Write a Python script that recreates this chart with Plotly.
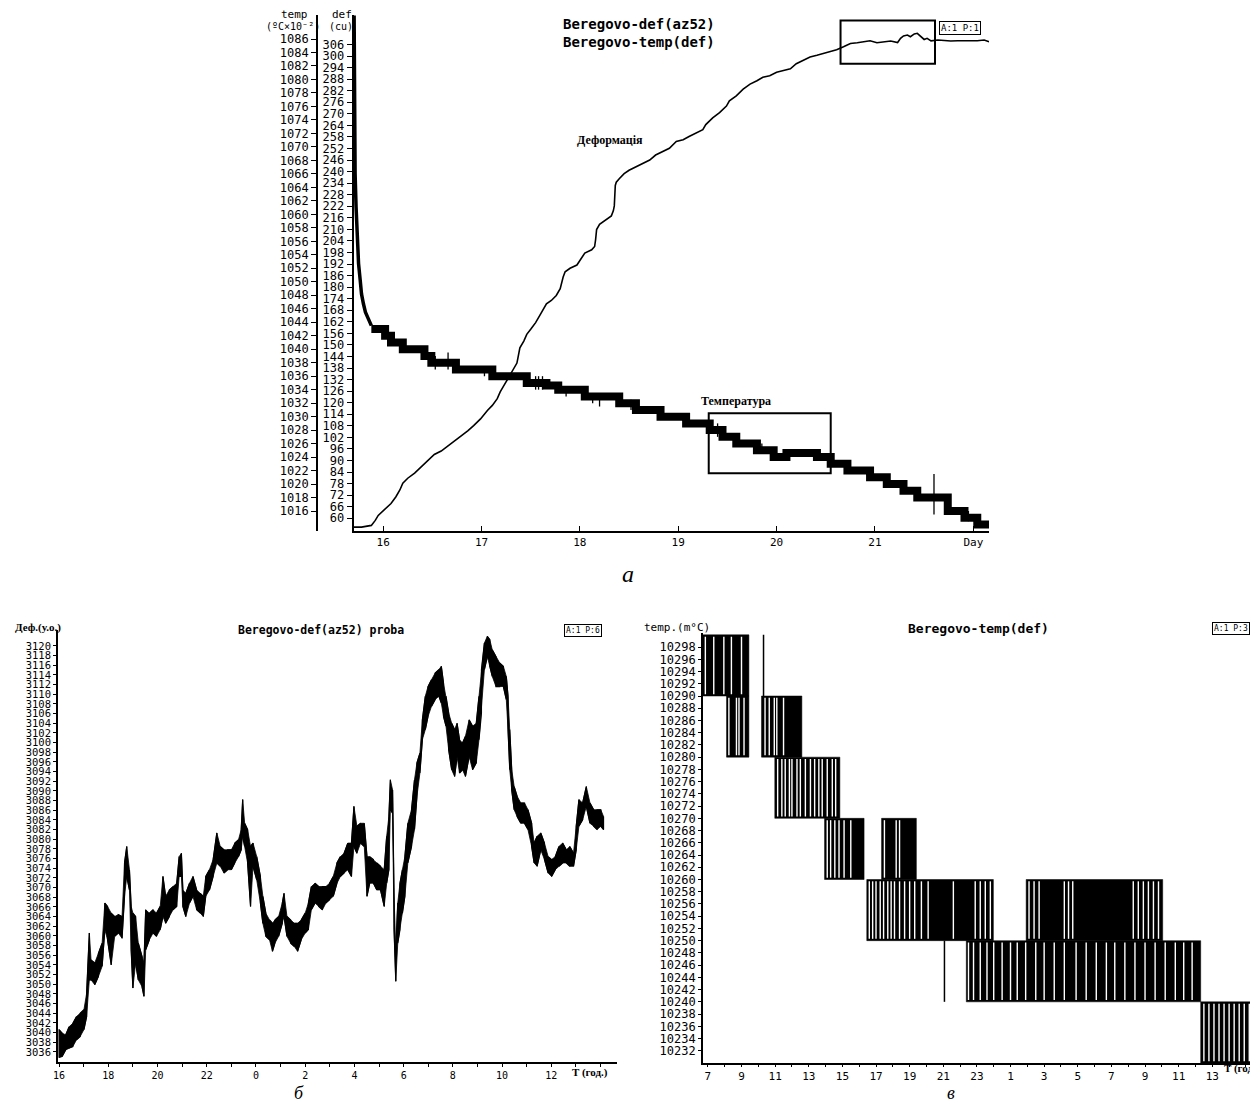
import plotly.graph_objects as go

# page offset of the plot div inside the browser (default body margin)
OFF = 8
W, H = 1250, 1098

# ================= PANEL a (top): deformation + temperature vs day =================
def_days = [15.70, 15.78, 15.88, 15.92, 15.95, 16.02, 16.08, 16.13, 16.17, 16.20,
            16.25, 16.32, 16.39, 16.45, 16.52, 16.59, 16.66, 16.72, 16.79, 16.86,
            16.92, 16.99, 17.06, 17.11, 17.16, 17.19, 17.23, 17.26, 17.29, 17.33,
            17.36, 17.37, 17.38, 17.39, 17.43, 17.46, 17.50, 17.55, 17.60, 17.63,
            17.66, 17.71, 17.76, 17.80, 17.82, 17.83, 17.85, 17.90, 17.97, 18.02,
            18.05, 18.12, 18.15, 18.16, 18.17, 18.20, 18.25, 18.32, 18.34, 18.35,
            18.36, 18.37, 18.40, 18.45, 18.50, 18.57, 18.64, 18.71, 18.77, 18.84,
            18.91, 18.98, 19.05, 19.11, 19.18, 19.25, 19.28, 19.35, 19.42, 19.49,
            19.52, 19.59, 19.66, 19.73, 19.80, 19.86, 19.93, 20.00, 20.07, 20.14,
            20.20, 20.27, 20.34, 20.41, 20.48, 20.55, 20.61, 20.68, 20.75, 20.82,
            20.89, 20.95, 21.02, 21.09, 21.16, 21.23, 21.26, 21.29, 21.33, 21.36,
            21.40, 21.43, 21.47, 21.50, 21.53, 21.57, 21.64, 21.70, 21.77, 21.84,
            21.91, 21.98, 22.04, 22.11, 22.16]
def_vals = [55.4, 55.4, 56.3, 58.9, 61.5, 65.0, 67.7, 71.2, 74.7, 78.2,
            80.8, 83.5, 87.0, 89.6, 93.1, 94.9, 97.5, 100.2, 102.8, 105.4,
            108.1, 111.6, 116.0, 118.6, 122.1, 125.6, 129.1, 131.8, 134.4, 137.9,
            140.6, 143.2, 146.7, 148.5, 152.0, 155.5, 158.1, 161.6, 166.0, 168.7,
            171.3, 173.1, 175.7, 179.2, 183.6, 185.3, 188.0, 189.8, 191.5, 195.0,
            197.7, 199.4, 201.1, 204.7, 209.9, 212.6, 214.3, 217.0, 219.6, 222.2,
            232.8, 234.5, 236.3, 238.9, 240.7, 242.4, 244.2, 246.0, 248.6, 250.3,
            252.1, 255.6, 256.5, 258.2, 260.0, 261.8, 264.4, 267.9, 270.6, 274.0,
            276.7, 279.3, 282.8, 285.4, 287.2, 289.0, 289.8, 291.6, 292.5, 293.4,
            296.0, 297.8, 299.5, 300.4, 301.3, 302.2, 303.3, 304.8, 306.5, 306.9,
            307.4, 307.9, 306.9, 307.4, 307.8, 307.0, 309.2, 310.4, 310.9, 310.0,
            311.5, 311.8, 310.0, 308.6, 309.2, 307.9, 308.3, 307.9, 307.8, 307.9,
            307.9, 307.8, 307.9, 308.3, 307.4]

temp_decay_days = [15.705, 15.71, 15.715, 15.725, 15.733, 15.74, 15.75, 15.767,
                   15.78, 15.80, 15.82, 15.85, 15.88]
temp_decay_vals = [1089.5, 1076.0, 1066.0, 1061.0, 1058.7, 1055.0, 1052.7, 1050.2,
                   1048.2, 1046.7, 1045.5, 1044.5, 1043.5]

temp_step_days = [15.88, 16.02, 16.08, 16.20, 16.42, 16.49, 16.74, 17.11, 17.46, 17.66,
                  17.78, 18.05, 18.40, 18.57, 18.82, 19.08, 19.32, 19.45, 19.59, 19.80,
                  19.97, 20.10, 20.41, 20.55, 20.72, 20.95, 21.12, 21.29, 21.43, 21.74,
                  21.91, 22.04, 22.16]
temp_step_vals = [1043, 1042, 1041, 1040, 1039, 1038, 1037, 1036, 1035, 1034.6,
                  1034, 1033, 1032, 1031, 1030, 1029, 1028, 1027, 1026, 1025,
                  1024, 1024.6, 1024, 1023, 1022, 1021, 1020, 1019, 1018, 1016,
                  1015, 1014, 1014]

glitch_days = [16.53, 16.66, 17.03, 17.55, 17.58, 17.62, 17.86, 18.13, 18.20, 18.52,
               19.40, 19.85, 20.43, 21.60, 21.95]
glitch_lo = [1037, 1037, 1036, 1034, 1034, 1034, 1033, 1032, 1031.5, 1031,
             1027, 1024.5, 1023.5, 1015.5, 1014.5]
glitch_hi = [1039, 1039.5, 1037.5, 1036, 1036, 1036, 1034.5, 1033.5, 1033.5, 1032.5,
             1029, 1026, 1025, 1021.5, 1016]

a_day_ticks = [16, 17, 18, 19, 20, 21, 22]
a_day_labels = ['16', '17', '18', '19', '20', '21', 'Day']
def_ticks = list(range(60, 307, 6))
temp_ticks = list(range(1016, 1087, 2))

# ================= PANEL б (bottom-left): deformation, hours =================
b_hours = [16.00, 16.12, 16.27, 16.41, 16.56, 16.71, 16.86, 17.01, 17.12, 17.23,
           17.30, 17.45, 17.60, 17.75, 17.86, 17.97, 18.12, 18.26, 18.41, 18.56,
           18.66, 18.75, 18.86, 18.93, 19.00, 19.11, 19.22, 19.37, 19.45, 19.52,
           19.67, 19.82, 19.96, 20.11, 20.22, 20.33, 20.48, 20.63, 20.78, 20.88,
           20.97, 21.03, 21.15, 21.30, 21.44, 21.59, 21.74, 21.86, 21.96, 22.11,
           22.26, 22.41, 22.55, 22.70, 22.85, 23.00, 23.14, 23.29, 23.40, 23.46,
           23.54, 23.66, 23.78, 23.88, 24.03, 24.18, 24.28, 24.40, 24.55, 24.67,
           24.77, 24.92, 25.07, 25.14, 25.26, 25.41, 25.56, 25.69, 25.84, 26.00,
           26.13, 26.25, 26.40, 26.55, 26.70, 26.84, 26.99, 27.14, 27.29, 27.43,
           27.58, 27.73, 27.88, 27.98, 28.10, 28.25, 28.40, 28.51, 28.62, 28.77,
           28.91, 29.06, 29.21, 29.31, 29.40, 29.46, 29.55, 29.61, 29.68, 29.76,
           29.85, 29.95, 30.05, 30.17, 30.32, 30.44, 30.54, 30.66, 30.76, 30.88,
           30.99, 31.13, 31.28, 31.43, 31.53, 31.62, 31.72, 31.83, 31.95, 32.07,
           32.17, 32.27, 32.39, 32.51, 32.66, 32.80, 32.95, 33.06, 33.16, 33.28,
           33.40, 33.50, 33.60, 33.75, 33.90, 34.05, 34.17, 34.24, 34.31, 34.39,
           34.49, 34.61, 34.76, 34.91, 35.05, 35.20, 35.30, 35.42, 35.57, 35.72,
           35.87, 36.01, 36.16, 36.31, 36.46, 36.61, 36.75, 36.90, 37.01, 37.12,
           37.27, 37.42, 37.57, 37.72, 37.86, 38.01, 38.12]
b_high = [3040.6, 3039.9, 3039.5, 3041.2, 3041.9, 3043.3, 3044.0, 3044.7, 3048.1, 3060.6,
          3055.0, 3054.4, 3056.4, 3058.5, 3066.8, 3066.1, 3064.7, 3064.0, 3064.4, 3064.0,
          3075.1, 3078.5, 3073.7, 3066.1, 3064.7, 3064.0, 3058.5, 3055.7, 3054.4, 3065.4,
          3064.7, 3065.4, 3064.7, 3066.1, 3072.3, 3068.2, 3069.5, 3070.2, 3070.9, 3076.4,
          3077.1, 3069.5, 3068.8, 3070.9, 3072.3, 3069.5, 3068.8, 3068.2, 3072.3, 3073.7,
          3075.8, 3081.3, 3078.5, 3077.8, 3077.8, 3077.8, 3079.2, 3079.9, 3082.0, 3088.2,
          3083.3, 3082.0, 3078.5, 3079.2, 3076.4, 3072.3, 3068.2, 3064.7, 3063.3, 3062.6,
          3063.3, 3064.0, 3066.8, 3068.8, 3064.0, 3063.3, 3062.6, 3062.6, 3063.3, 3064.7,
          3066.8, 3070.2, 3070.9, 3070.2, 3070.2, 3070.2, 3070.9, 3072.3, 3075.1, 3076.4,
          3077.1, 3079.2, 3079.2, 3086.8, 3082.7, 3083.3, 3083.3, 3076.4, 3076.4, 3075.8,
          3075.1, 3074.4, 3073.7, 3080.6, 3084.7, 3092.3, 3090.2, 3068.2, 3057.1, 3066.8,
          3070.9, 3073.7, 3076.4, 3083.3, 3086.1, 3092.3, 3095.8, 3097.8, 3104.7, 3109.6,
          3111.6, 3113.0, 3114.4, 3115.1, 3115.8, 3112.3, 3109.6, 3106.1, 3104.0, 3102.7,
          3104.0, 3100.6, 3099.9, 3101.3, 3104.7, 3103.4, 3104.0, 3109.6, 3115.1, 3120.6,
          3122.0, 3121.3, 3119.2, 3117.8, 3116.5, 3115.8, 3113.7, 3109.6, 3102.7, 3094.4,
          3090.9, 3088.9, 3087.5, 3087.5, 3086.1, 3083.3, 3079.2, 3080.6, 3081.3, 3079.2,
          3076.4, 3075.8, 3076.4, 3078.5, 3079.2, 3077.8, 3078.5, 3077.1, 3082.7, 3088.2,
          3087.5, 3090.9, 3087.5, 3086.1, 3086.1, 3086.1, 3084.7]
b_low = [3034.8, 3035.0, 3036.4, 3036.8, 3037.1, 3038.5, 3039.2, 3040.6, 3043.3, 3050.9,
         3050.9, 3049.9, 3051.6, 3053.7, 3061.3, 3059.2, 3054.0, 3059.9, 3060.6, 3059.5,
         3068.2, 3072.3, 3069.5, 3057.1, 3049.2, 3054.4, 3050.9, 3049.5, 3047.5, 3057.1,
         3059.2, 3060.6, 3059.9, 3061.3, 3064.0, 3062.6, 3064.0, 3065.4, 3066.1, 3072.3,
         3072.3, 3066.1, 3064.0, 3066.8, 3068.2, 3065.4, 3064.7, 3064.0, 3068.2, 3069.5,
         3072.3, 3075.1, 3074.4, 3073.0, 3073.7, 3073.7, 3075.1, 3076.4, 3077.8, 3080.6,
         3078.5, 3075.1, 3066.1, 3074.4, 3071.6, 3066.8, 3062.6, 3059.9, 3059.2, 3056.8,
         3058.5, 3059.9, 3062.6, 3064.0, 3059.9, 3058.5, 3057.8, 3056.8, 3059.2, 3060.6,
         3061.3, 3065.4, 3066.8, 3066.1, 3065.4, 3066.8, 3067.5, 3068.2, 3070.9, 3072.3,
         3073.0, 3073.7, 3072.3, 3078.5, 3077.1, 3079.2, 3078.5, 3068.2, 3070.9, 3070.9,
         3069.5, 3069.5, 3066.1, 3070.9, 3073.7, 3086.1, 3085.4, 3061.3, 3050.6, 3058.5,
         3061.3, 3064.7, 3068.2, 3075.1, 3078.5, 3082.0, 3088.9, 3093.7, 3100.6, 3102.7,
         3105.4, 3107.5, 3108.9, 3109.6, 3108.2, 3105.4, 3103.4, 3098.5, 3094.4, 3093.0,
         3097.1, 3093.7, 3094.4, 3093.0, 3097.1, 3094.4, 3095.8, 3100.6, 3106.1, 3115.1,
         3117.8, 3115.8, 3113.7, 3111.6, 3111.6, 3111.6, 3108.9, 3102.7, 3094.4, 3090.2,
         3086.1, 3084.7, 3083.3, 3083.3, 3082.0, 3078.5, 3075.1, 3074.4, 3077.8, 3075.8,
         3073.0, 3072.3, 3073.7, 3074.4, 3075.1, 3075.1, 3074.4, 3074.4, 3077.8, 3082.7,
         3084.0, 3086.8, 3083.3, 3082.7, 3082.0, 3082.7, 3082.0]
b_tick_hours = list(range(16, 39))
b_tick_labels = ['16', '', '18', '', '20', '', '22', '', '0', '', '2', '', '4', '',
                 '6', '', '8', '', '10', '', '12', '', '']

# ================= PANEL в (bottom-right): temperature, hours =================
c_start = [6.65, 8.11, 10.19, 10.98, 13.94, 17.33, 16.45, 25.93, 22.37, 36.31]
c_end = [9.44, 9.44, 12.59, 14.85, 16.29, 19.40, 23.98, 34.05, 36.31, 39.60]
c_level = [10290, 10280, 10280, 10270, 10260, 10260, 10250, 10250, 10240, 10230]
c_gaps = [
    [6.85, 7.35, 7.95, 8.40, 9.00],
    [8.25, 8.70, 8.85, 9.15],
    [10.40, 10.65, 10.95, 11.10, 11.50],
    [11.15, 11.40, 11.60, 11.85, 12.00, 12.30, 12.50, 12.80, 13.10, 13.35, 13.60,
     13.80, 14.10, 14.40, 14.60],
    [14.10, 14.30, 14.55, 14.80, 15.10, 15.50],
    [17.50, 18.20, 18.40],
    [16.60, 16.80, 17.00, 17.25, 17.45, 17.70, 17.90, 18.10, 18.40, 18.70, 19.00,
     19.30, 19.70, 20.10, 21.60, 22.90, 23.20, 23.50, 23.80],
    [26.10, 26.40, 26.70, 28.20, 28.45, 28.70, 32.30, 32.60, 32.90, 33.20, 33.50, 33.80],
    [22.50, 22.80, 23.20, 23.60, 24.00, 24.50, 25.00, 25.40, 25.90, 26.50, 27.00,
     27.60, 28.20, 28.90, 29.50, 30.10, 30.70, 31.20, 31.80, 32.40, 33.00, 33.60,
     34.20, 34.80, 35.30, 35.80],
    [36.50, 36.80, 37.10, 37.40, 37.70, 38.00, 38.30, 38.60, 38.90, 39.20, 39.45],
]
c_single_hours = [10.31, 21.07]
c_single_level = [10290, 10240]
c_step = 10
c_tick_hours = list(range(7, 40))
c_tick_labels = ['7', '', '9', '', '11', '', '13', '', '15', '', '17', '', '19', '',
                 '21', '', '23', '', '1', '', '3', '', '5', '', '7', '', '9', '',
                 '11', '', '13', '', '']

# ================= FIGURE =================
fig = go.Figure()
BLK = 'black'

# panel a
fig.add_trace(go.Scatter(x=def_days, y=def_vals, mode='lines',
                         line=dict(color=BLK, width=1.6), xaxis='x', yaxis='y'))
fig.add_trace(go.Scatter(x=temp_decay_days, y=temp_decay_vals, mode='lines',
                         line=dict(color=BLK, width=3.5), xaxis='x', yaxis='y2'))
fig.add_trace(go.Scatter(x=temp_step_days, y=temp_step_vals, mode='lines',
                         line=dict(color=BLK, width=8, shape='hv'), xaxis='x', yaxis='y2'))
gx, gy = [], []
for d, lo, hi in zip(glitch_days, glitch_lo, glitch_hi):
    gx += [d, d, None]
    gy += [lo, hi, None]
fig.add_trace(go.Scatter(x=gx, y=gy, mode='lines', line=dict(color=BLK, width=1.3),
                         xaxis='x', yaxis='y2'))

# panel b: filled envelope + jagged trace
fig.add_trace(go.Scatter(x=b_hours + b_hours[::-1], y=b_high + b_low[::-1], mode='lines',
                         fill='toself', fillcolor=BLK, line=dict(color=BLK, width=0.8),
                         xaxis='x2', yaxis='y3'))
bx, by = [], []
for i, (h, hi, lo) in enumerate(zip(b_hours, b_high, b_low)):
    bx += [h, h]
    by += [lo, hi] if i % 2 == 0 else [hi, lo]
fig.add_trace(go.Scatter(x=bx, y=by, mode='lines', line=dict(color=BLK, width=1.2),
                         xaxis='x2', yaxis='y3'))

# panel c
for s, e, lv in zip(c_start, c_end, c_level):
    fig.add_trace(go.Scatter(x=[s, e, e, s, s], y=[lv, lv, lv + c_step, lv + c_step, lv],
                             mode='lines', fill='toself', fillcolor=BLK,
                             line=dict(color=BLK, width=0.5), xaxis='x3', yaxis='y4'))
wx, wy = [], []
for gaps, lv in zip(c_gaps, c_level):
    for g in gaps:
        wx += [g, g, None]
        wy += [lv + 0.3, lv + c_step - 0.3, None]
fig.add_trace(go.Scatter(x=wx, y=wy, mode='lines', line=dict(color='white', width=1.4),
                         xaxis='x3', yaxis='y4'))
sx, sy = [], []
for h, lv in zip(c_single_hours, c_single_level):
    sx += [h, h, None]
    sy += [lv, lv + c_step, None]
fig.add_trace(go.Scatter(x=sx, y=sy, mode='lines', line=dict(color=BLK, width=1.5),
                         xaxis='x3', yaxis='y4'))

MONO = 'DejaVu Sans Mono'
SERIF = 'Liberation Serif'


def px(x):
    return (x - OFF) / W


def py(y):
    return 1 - (y - OFF) / H


ax_common = dict(showgrid=False, zeroline=False, showline=True, linecolor=BLK,
                 tickcolor=BLK, ticks='outside', tickmode='array')

fig.update_layout(
    width=W, height=H, margin=dict(l=0, r=0, t=0, b=0),
    paper_bgcolor='white', plot_bgcolor='white', showlegend=False,
    font=dict(family=MONO, color=BLK),
    xaxis=dict(**{**ax_common, 'ticks': 'inside'}, domain=[px(350), px(988)],
               range=[15.70, 22.16], anchor='y',
               tickvals=a_day_ticks, ticktext=a_day_labels, linewidth=2, ticklen=5,
               tickfont=dict(size=11, family=MONO)),
    yaxis=dict(**ax_common, domain=[py(531), py(15)], range=[53.4, 321.3], anchor='x',
               tickvals=def_ticks, ticktext=[str(v) for v in def_ticks], linewidth=2,
               ticklen=5, tickfont=dict(size=12, family=MONO)),
    yaxis2=dict(**ax_common, overlaying='y', anchor='free', position=px(313), side='left',
                range=[1013.04, 1089.56], tickvals=temp_ticks,
                ticktext=[str(v) for v in temp_ticks], linewidth=1.5, ticklen=5,
                tickfont=dict(size=12, family=MONO)),
    xaxis2=dict(**ax_common, domain=[px(53), px(614)], range=[15.95, 38.65], anchor='y3',
                tickvals=b_tick_hours, ticktext=b_tick_labels, linewidth=1.5, ticklen=3,
                tickfont=dict(size=10, family=MONO)),
    yaxis3=dict(**ax_common, domain=[py(1062), py(630)], range=[3033.9, 3123.3],
                anchor='x2', tickvals=list(range(3036, 3121, 2)),
                ticktext=[str(v) for v in range(3036, 3121, 2)], linewidth=1.5, ticklen=3,
                tickfont=dict(size=10.5, family=MONO)),
    xaxis3=dict(**ax_common, domain=[px(700.6), px(1256)], range=[6.70, 39.6], anchor='y4',
                tickvals=c_tick_hours, ticktext=c_tick_labels, linewidth=1.5, ticklen=2,
                tickfont=dict(size=11, family=MONO)),
    yaxis4=dict(**ax_common, domain=[py(1063), py(633)], range=[10230, 10300.3],
                anchor='x3', tickvals=list(range(10232, 10299, 2)),
                ticktext=[str(v) for v in range(10232, 10299, 2)], linewidth=1.5, ticklen=3,
                tickfont=dict(size=12, family=MONO)),
)

shapes = [
    dict(type='rect', xref='x', yref='y', x0=20.65, x1=21.61, y0=296.0, y1=318.5,
         line=dict(color=BLK, width=2)),
    dict(type='rect', xref='x', yref='y2', x0=19.31, x1=20.55, y0=1021.6, y1=1030.5,
         line=dict(color=BLK, width=2)),
]
fig.update_layout(shapes=shapes)


def ann(text, x, y, size, family=MONO, xanchor='center', yanchor='middle', **kw):
    return dict(text=text, x=px(x), y=py(y), xref='paper', yref='paper', showarrow=False,
                xanchor=xanchor, yanchor=yanchor, font=dict(size=size, family=family, color=BLK),
                **kw)


boxed = dict(bordercolor=BLK, borderwidth=1, borderpad=1)
annotations = [
    # panel a
    ann('<b>Beregovo-def(az52)<br>Beregovo-temp(def)</b>', 558, 33, 14, xanchor='left',
        align='left'),
    ann('A:1 P:1', 959, 28, 9, **boxed),
    ann('temp', 291, 15, 11),
    ann('(ºC×10⁻²)', 289, 26, 10),
    ann('def', 338, 15, 11),
    ann('(cu)', 337, 26, 10),
    ann('<b>Деформація</b>', 607, 140, 12, family=SERIF),
    ann('<b>Температура</b>', 734, 401, 12, family=SERIF),
    ann('<i>а</i>', 625, 574, 24, family=SERIF),
    # panel b
    ann('<b>Деф.(у.о.)</b>', 33, 627, 11, family=SERIF),
    ann('<b>Beregovo-def(az52) proba</b>', 317, 630, 11.5),
    ann('A:1 P:6', 580, 630, 8, **boxed),
    ann('<b>T (год.)</b>', 567, 1072, 11, family=SERIF, xanchor='left'),
    ann('<i>б</i>', 295, 1105, 18, family=SERIF, yanchor='bottom'),
    # panel c
    ann('temp.(m°C)', 675, 627, 11),
    ann('<b>Beregovo-temp(def)</b>', 977, 628, 13),
    ann('A:1 P:3', 1231, 628, 8, **boxed),
    ann('<b>T (год.)</b>', 1222, 1068, 11, family=SERIF, xanchor='left'),
    ann('<i>в</i>', 950, 1105, 18, family=SERIF, yanchor='bottom'),
]
fig.update_layout(annotations=annotations)

fig.write_html('out.html')
